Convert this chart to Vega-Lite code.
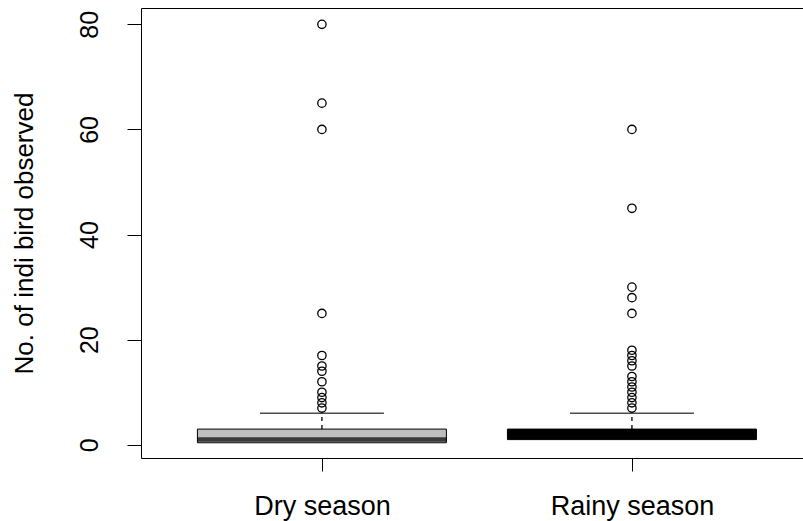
{
  "$schema": "https://vega.github.io/schema/vega-lite/v6.json",
  "width": 662,
  "height": 450,
  "autosize": {"type": "none"},
  "padding": {"left": 141, "top": 8, "right": 0, "bottom": 63},
  "background": "white",
  "config": {
    "view": {"stroke": "black", "strokeWidth": 1},
    "axis": {"grid": false, "domain": false, "labelFont": "Liberation Sans", "titleFont": "Liberation Sans", "labelColor": "black", "titleColor": "black", "tickColor": "black", "titleFontWeight": "normal"}
  },
  "datasets": {
    "boxes": [
      {"season": "Dry season", "q1": 0.4, "median": 1, "q3": 3, "upper": 6},
      {"season": "Rainy season", "q1": 1, "median": 2, "q3": 3, "upper": 6}
    ],
    "outliers": [
      {"season": "Dry season", "value": 7},
      {"season": "Dry season", "value": 8},
      {"season": "Dry season", "value": 9},
      {"season": "Dry season", "value": 10},
      {"season": "Dry season", "value": 12},
      {"season": "Dry season", "value": 14},
      {"season": "Dry season", "value": 15},
      {"season": "Dry season", "value": 17},
      {"season": "Dry season", "value": 25},
      {"season": "Dry season", "value": 60},
      {"season": "Dry season", "value": 65},
      {"season": "Dry season", "value": 80},
      {"season": "Rainy season", "value": 7},
      {"season": "Rainy season", "value": 8},
      {"season": "Rainy season", "value": 9},
      {"season": "Rainy season", "value": 10},
      {"season": "Rainy season", "value": 11},
      {"season": "Rainy season", "value": 12},
      {"season": "Rainy season", "value": 13},
      {"season": "Rainy season", "value": 15},
      {"season": "Rainy season", "value": 16},
      {"season": "Rainy season", "value": 17},
      {"season": "Rainy season", "value": 18},
      {"season": "Rainy season", "value": 25},
      {"season": "Rainy season", "value": 28},
      {"season": "Rainy season", "value": 30},
      {"season": "Rainy season", "value": 45},
      {"season": "Rainy season", "value": 60}
    ]
  },
  "layer": [
    {
      "data": {"name": "boxes"},
      "mark": {"type": "bar", "width": 249, "stroke": "black", "strokeWidth": 1},
      "encoding": {
        "x": {"field": "season", "type": "nominal", "scale": {"type": "point", "padding": 0.5677, "align": 0.514}, "axis": {"title": null, "labelAngle": 0, "labelFontSize": 27, "tickSize": 13, "labelPadding": 22}},
        "y": {"field": "q1", "type": "quantitative", "title": "No. of indi bird observed", "scale": {"domain": [-2.5, 83.1], "nice": false, "zero": false}, "axis": {"values": [0, 20, 40, 60, 80], "labelAngle": 270, "labelAlign": "center", "labelBaseline": "bottom", "labelFontSize": 25, "tickSize": 14, "labelPadding": 25, "titleFontSize": 26, "titlePadding": 40}},
        "y2": {"field": "q3"},
        "color": {"field": "season", "type": "nominal", "scale": {"domain": ["Dry season", "Rainy season"], "range": ["#bebebe", "#000000"]}, "legend": null}
      }
    },
    {
      "data": {"name": "boxes"},
      "mark": {"type": "tick", "size": 249, "thickness": 4.5, "color": "black"},
      "encoding": {
        "x": {"field": "season", "type": "nominal", "title": null},
        "y": {"field": "median", "type": "quantitative", "title": "No. of indi bird observed"}
      }
    },
    {
      "data": {"name": "boxes"},
      "mark": {"type": "rule", "color": "black", "strokeWidth": 1.3, "strokeDash": [4, 4]},
      "encoding": {
        "x": {"field": "season", "type": "nominal", "title": null},
        "y": {"field": "q3", "type": "quantitative", "title": "No. of indi bird observed"},
        "y2": {"field": "upper"}
      }
    },
    {
      "data": {"name": "boxes"},
      "mark": {"type": "tick", "size": 124, "thickness": 1.5, "color": "black"},
      "encoding": {
        "x": {"field": "season", "type": "nominal", "title": null},
        "y": {"field": "upper", "type": "quantitative", "title": "No. of indi bird observed"}
      }
    },
    {
      "data": {"name": "outliers"},
      "mark": {"type": "point", "shape": "circle", "filled": false, "size": 70, "stroke": "black", "strokeWidth": 1.3, "opacity": 1},
      "encoding": {
        "x": {"field": "season", "type": "nominal", "title": null},
        "y": {"field": "value", "type": "quantitative", "title": "No. of indi bird observed"}
      }
    }
  ]
}
